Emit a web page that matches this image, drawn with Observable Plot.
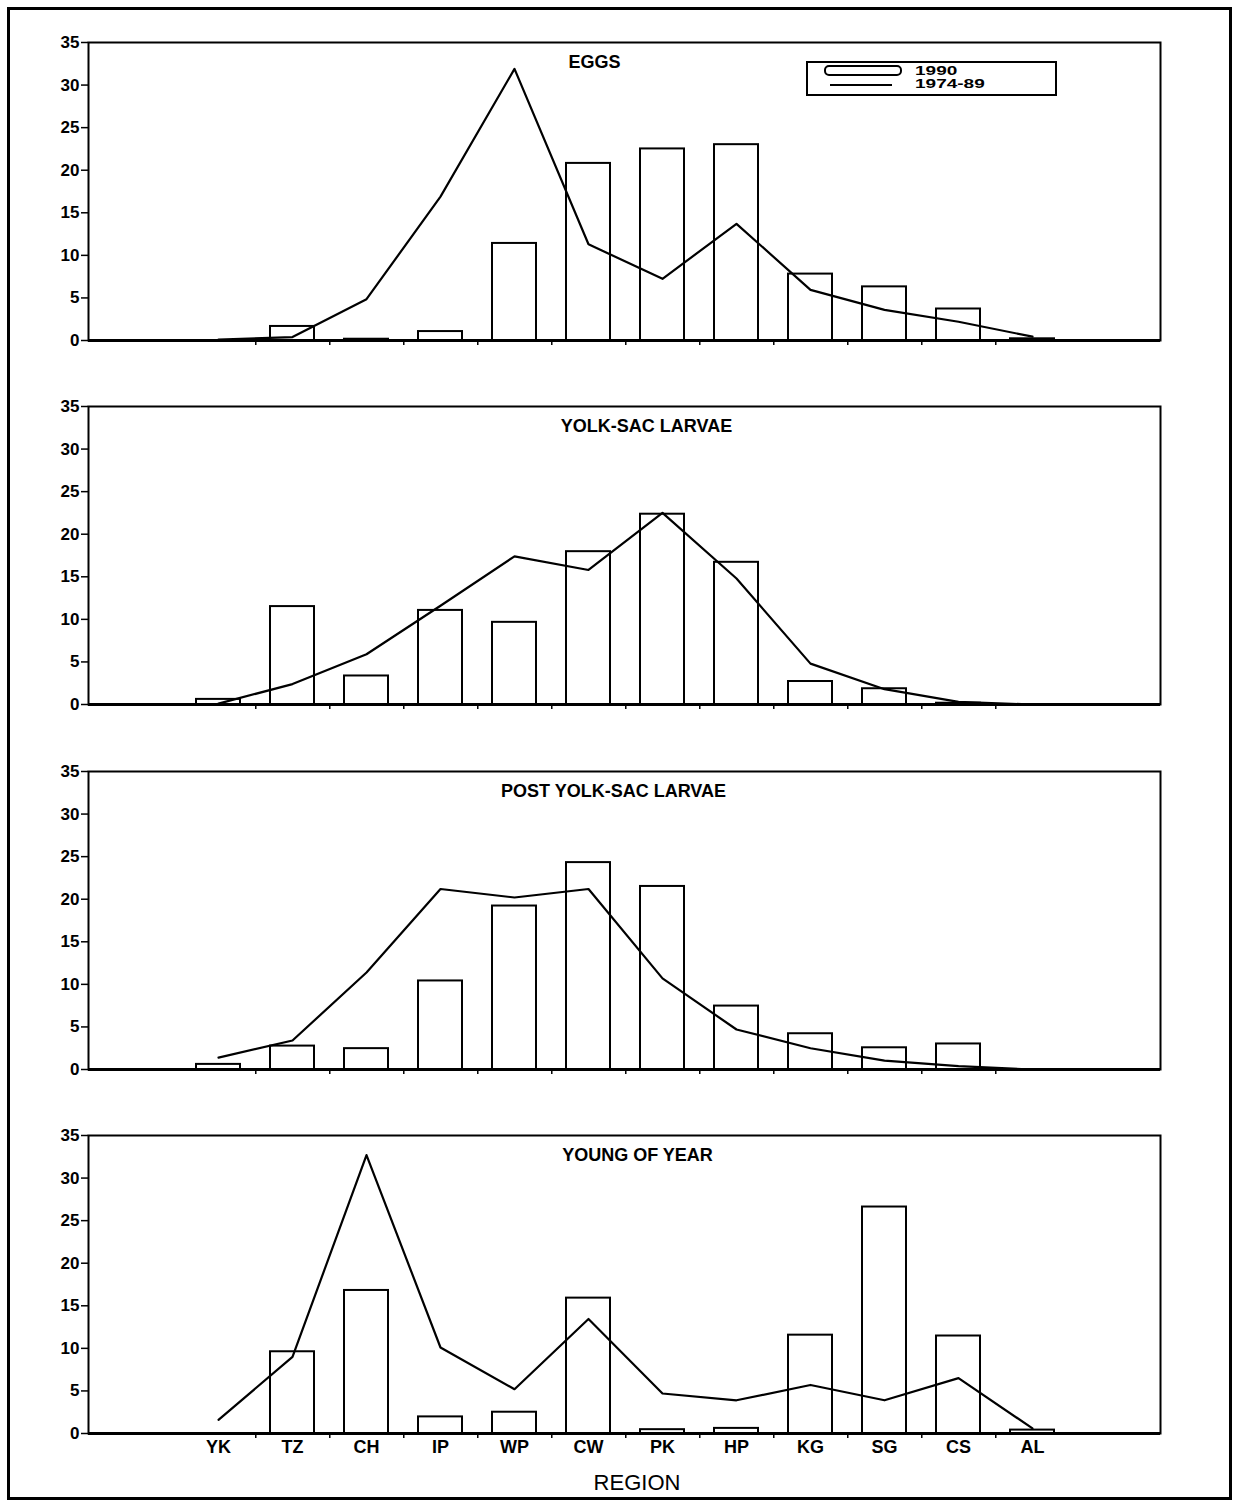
<!DOCTYPE html>
<html>
<head>
<meta charset="utf-8">
<script src="https://cdn.jsdelivr.net/npm/d3@7"></script>
<script src="https://cdn.jsdelivr.net/npm/@observablehq/plot@0.6"></script>
<style>
  body { margin: 0; background: #fff; font-family: "Liberation Sans", Arial, sans-serif; }
  #page { position: relative; width: 1238px; height: 1501px; overflow: hidden; }
  #border { position: absolute; left: 7px; top: 7px; width: 1219px; height: 1487px; border: 3px solid #000; }
  .panel { position: absolute; left: 0; }
  #legend { position: absolute; left: 806px; top: 61px; width: 247px; height: 31px; border: 2px solid #000; background: #fff; }
  #legend .lab { position: absolute; left: 107px; top: 1px; font-weight: bold; font-size: 19px; line-height: 20px; color: #000; transform: scaleY(0.68); transform-origin: 0 0; }
  #xtitle { position: absolute; top: 1470px; left: 0; width: 1274px; text-align: center; font-size: 22px; color: #000; }
</style>
</head>
<body>
<div id="page">
  <div id="border"></div>
  <div id="panels"></div>
  <div id="legend">
    <svg width="100" height="31" style="position:absolute;left:0;top:0">
      <rect x="17" y="3" width="76" height="9" rx="4" fill="white" stroke="black" stroke-width="2"></rect>
      <line x1="22" x2="84" y1="22" y2="22" stroke="black" stroke-width="2"></line>
    </svg>
    <div class="lab" id="leglab"></div>
  </div>
  <div id="xtitle"></div>
</div>
<script>
// ---- data ----
const regions = ["YK", "TZ", "CH", "IP", "WP", "CW", "PK", "HP", "KG", "SG", "CS", "AL"];
const panelTitles = ["EGGS", "YOLK-SAC LARVAE", "POST YOLK-SAC LARVAE", "YOUNG OF YEAR"];
const seriesNames = ["1990", "1974-89"];
const xAxisTitle = "REGION";
const yTicks = [0, 5, 10, 15, 20, 25, 30, 35];

// percent by region, 1990 (bars)
const eggs1990      = [0, 1.65, 0.15, 1.05, 11.4, 20.8, 22.5, 23.0, 7.8, 6.3, 3.7, 0.2];
const yolkSac1990   = [0.6, 11.5, 3.35, 11.05, 9.65, 17.95, 22.35, 16.7, 2.7, 1.85, 0.15, 0];
const postYolk1990  = [0.6, 2.75, 2.45, 10.4, 19.2, 24.3, 21.5, 7.45, 4.2, 2.55, 3.0, 0];
const youngYear1990 = [0, 9.6, 16.8, 1.95, 2.5, 15.9, 0.45, 0.6, 11.55, 26.6, 11.45, 0.4];

// percent by region, 1974-89 mean (line)
const eggs7489      = [0.1, 0.4, 4.85, 16.9, 31.9, 11.3, 7.25, 13.7, 5.95, 3.6, 2.2, 0.45];
const yolkSac7489   = [0.1, 2.4, 5.9, 11.6, 17.4, 15.8, 22.5, 14.8, 4.8, 1.8, 0.3, 0];
const postYolk7489  = [1.4, 3.4, 11.4, 21.2, 20.2, 21.2, 10.7, 4.7, 2.5, 1.05, 0.4, 0];
const youngYear7489 = [1.6, 9.0, 32.7, 10.1, 5.2, 13.45, 4.7, 3.9, 5.7, 3.9, 6.5, 0.6];

const bars = [eggs1990, yolkSac1990, postYolk1990, youngYear1990];
const lines = [eggs7489, yolkSac7489, postYolk7489, youngYear7489];

// ---- layout ----
const W = 1238, mL = 88, mR = 78, mT = 12, frameH = 298;
const frameTops = [42, 406, 771, 1135];
const titleCenters = [594, 646, 613, 637];
const padIn = 0.4, padOut = 1.39;
const step = (W - mL - mR) / (regions.length - padIn + 2 * padOut);
const font = "Liberation Sans, Arial, sans-serif";

const host = document.getElementById("panels");
panelTitles.forEach((title, k) => {
  const last = k === panelTitles.length - 1;
  const mB = last ? 40 : 16;
  const data = regions.map((r, i) => ({region: r, v1990: bars[k][i], v7489: lines[k][i]}));
  const chart = Plot.plot({
    width: W,
    height: mT + frameH + mB,
    marginLeft: mL, marginRight: mR, marginTop: mT, marginBottom: mB,
    style: {fontFamily: font, fontSize: "17px", fontWeight: "bold", color: "#000", background: "transparent", overflow: "visible"},
    x: {type: "band", domain: regions, paddingInner: padIn, paddingOuter: padOut, align: 0.505, axis: null},
    y: {domain: [0, 35], axis: null},
    marks: [
      Plot.axisY({ticks: yTicks, tickSize: 7, tickPadding: 2, tickFormat: d => String(d), fontSize: 17, fontWeight: "bold", strokeWidth: 1.5, label: null}),
      Plot.axisX({ticks: regions.slice(0, -1), tickSize: 5, dx: step / 2, tickFormat: () => "", strokeWidth: 1.5, label: null}),
      last ? Plot.axisX({ticks: regions, tickSize: 0, tickPadding: 7, fontSize: 18, fontWeight: "bold", label: null}) : null,
      Plot.barY(data, {x: "region", y: "v1990", fill: "white", stroke: "black", strokeWidth: 2}),
      Plot.lineY(data, {x: "region", y: "v7489", stroke: "black", strokeWidth: 2.2}),
      Plot.frame({stroke: "black", strokeWidth: 2}),
      Plot.ruleY([0], {stroke: "black", strokeWidth: 3}),
      Plot.text([title], {frameAnchor: "top-left", dx: titleCenters[k] - mL, dy: 13, textAnchor: "middle", fontSize: 18, fontWeight: "bold", fill: "black"})
    ]
  });
  chart.classList.add("panel");
  chart.style.top = (frameTops[k] - mT) + "px";
  host.appendChild(chart);
});

document.getElementById("leglab").innerHTML = seriesNames.join("<br>");
document.getElementById("xtitle").textContent = xAxisTitle;
</script>
</body>
</html>
